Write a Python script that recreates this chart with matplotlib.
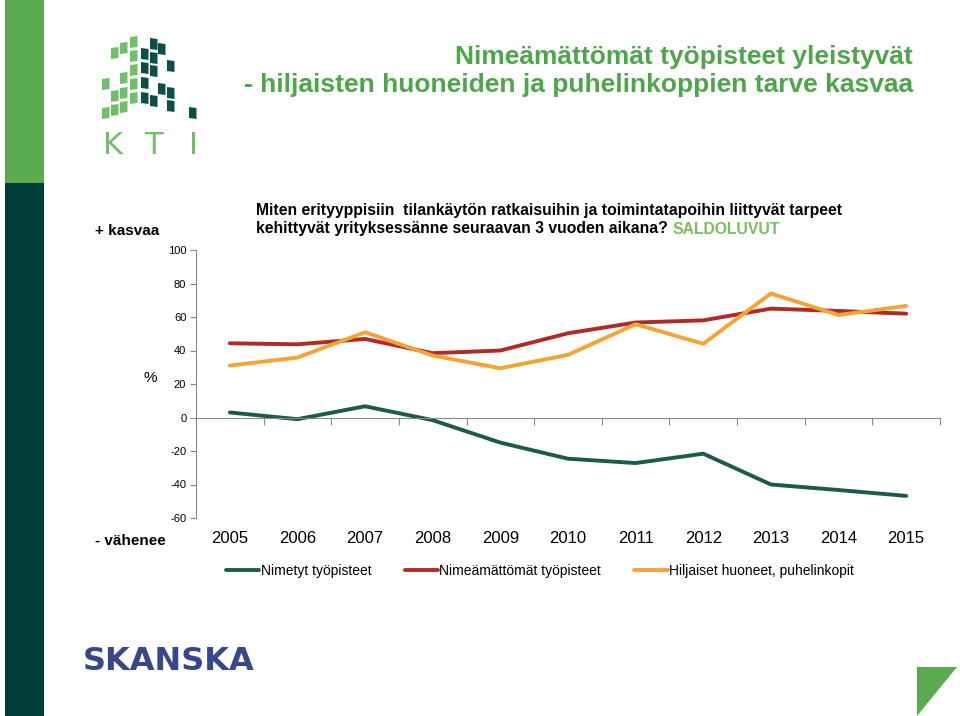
import numpy as np
import matplotlib.pyplot as plt
from matplotlib.patches import Rectangle, Polygon

years = ['2005', '2006', '2007', '2008', '2009', '2010', '2011', '2012', '2013', '2014', '2015']
nimetyt = [3, -1, 6.7, -1.6, -15, -24.6, -27.2, -21.6, -40, -43.3, -46.8]
nimeamattomat = [44.3, 43.7, 46.9, 38.4, 40, 50.3, 56.7, 58, 65, 63.6, 62]
hiljaiset = [31, 35.8, 50.9, 37, 29.4, 37.4, 55.7, 44, 74, 61.2, 66.6]
series_names = ['Nimetyt työpisteet', 'Nimeämättömät työpisteet', 'Hiljaiset huoneet, puhelinkopit']
series_colors = ['#1d5a4d', '#b02a26', '#f4a437']
yticks = [-60, -40, -20, 0, 20, 40, 60, 80, 100]

plt.rcParams['font.family'] = ['Liberation Sans', 'DejaVu Sans']
plt.rcParams['axes.unicode_minus'] = False

W, H = 960, 716
fig = plt.figure(figsize=(W / 100, H / 100), dpi=100)

# page decoration, pixel coordinates
bg = fig.add_axes([0, 0, 1, 1])
bg.set_xlim(0, W)
bg.set_ylim(H, 0)
bg.axis('off')
bg.add_patch(Rectangle((5, 0), 39, 183, color='#5aab50', lw=0))
bg.add_patch(Rectangle((5, 183), 39, 533, color='#003d38', lw=0))
bg.add_patch(Polygon([(917, 667), (957, 667), (917, 716)], color='#5aab50', lw=0))

# KTI logo (rough copy of the squares)
light = [(102, 78), (102, 107), (111, 47), (111, 90), (111, 104),
         (120, 42), (120, 72), (120, 87), (120, 101),
         (130, 36), (130, 50), (130, 64), (130, 78), (130, 92)]
dark = [(141, 48), (141, 62), (141, 77), (141, 92),
        (150, 38), (150, 52), (150, 65), (150, 95),
        (158, 43), (158, 83), (167, 60), (167, 87), (167, 100), (189, 107)]
for px, py in light:
    bg.add_patch(Polygon([(px, py + 1), (px + 7.5, py), (px + 7.5, py + 11), (px, py + 12)],
                         color='#72bf6a', lw=0))
for px, py in dark:
    bg.add_patch(Polygon([(px, py), (px + 7.5, py + 1), (px + 7.5, py + 12), (px, py + 11)],
                         color='#0d4f47', lw=0))
for ch, cx in zip('KTI', [113, 153, 194]):
    bg.text(cx, 146, ch, fontsize=22, color='#72bf6a', ha='center', va='center',
            family=['DejaVu Sans'])

bg.text(913, 57, 'Nimeämättömät työpisteet yleistyvät', fontsize=19, fontweight='bold',
        color='#4ea64a', ha='right', va='center')
bg.text(913, 85, '- hiljaisten huoneiden ja puhelinkoppien tarve kasvaa', fontsize=19,
        fontweight='bold', color='#4ea64a', ha='right', va='center')

bg.text(256, 211, 'Miten erityyppisiin  tilankäytön ratkaisuihin ja toimintatapoihin liittyvät tarpeet',
        fontsize=11.3, fontweight='bold', ha='left', va='center')
t2 = bg.text(256, 229, 'kehittyvät yrityksessänne seuraavan 3 vuoden aikana? ',
             fontsize=11.3, fontweight='bold', ha='left', va='center')
bg.annotate('SALDOLUVUT', xy=(1, 0.5), xycoords=t2, fontsize=11.3, fontweight='bold',
            color='#7cbd5f', ha='left', va='center')

bg.text(95, 231, '+ kasvaa', fontsize=11, fontweight='bold', ha='left', va='center')
bg.text(95, 541, '- vähenee', fontsize=11, fontweight='bold', ha='left', va='center')
bg.text(150, 378, '%', fontsize=11, ha='center', va='center')
bg.text(83, 662, 'SKANSKA', fontsize=23, fontweight='bold', color='#38478a',
        ha='left', va='center', family=['DejaVu Sans'])

# chart
ax = fig.add_axes([196 / W, 1 - 518 / H, 744 / W, 268 / H])
x = np.arange(len(years))
for vals, name, col in zip([nimetyt, nimeamattomat, hiljaiset], series_names, series_colors):
    ax.plot(x, vals, color=col, lw=2.8, label=name, solid_capstyle='round')

ax.set_xlim(-0.5, len(years) - 0.5)
ax.set_ylim(-60, 100)
ax.set_yticks(yticks)
ax.tick_params(axis='y', labelsize=8, length=4, color='#888888', pad=3)
for s in ['top', 'right']:
    ax.spines[s].set_visible(False)
ax.spines['left'].set_color('#888888')
ax.spines['bottom'].set_position(('data', 0))
ax.spines['bottom'].set_color('#888888')
ax.set_xticks(np.arange(len(years) + 1) - 0.5)
ax.set_xticklabels([])
ax.tick_params(axis='x', length=5, color='#888888')
for xi, yr in zip(x, years):
    ax.text(xi, -72, yr, fontsize=12, ha='center', va='center')

fig.legend(loc='center', bbox_to_anchor=(540 / W, 1 - 571 / H), ncol=3, frameon=False,
           fontsize=10, handlelength=2.4, handletextpad=0.1, columnspacing=2.4)

fig.savefig('out.png', dpi=100)
